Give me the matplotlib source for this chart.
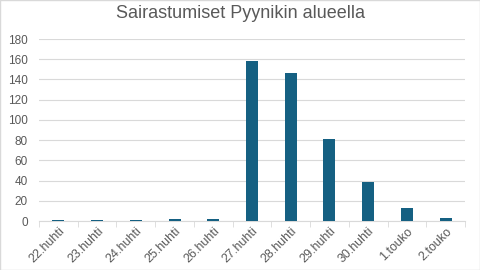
import matplotlib.pyplot as plt
import numpy as np

# Data
paivat = ['22.huhti', '23.huhti', '24.huhti', '25.huhti', '26.huhti', '27.huhti',
          '28.huhti', '29.huhti', '30.huhti', '1.touko', '2.touko']
sairastumiset = [1, 1, 1, 2, 2, 158, 146, 81, 39, 13, 3]
y_ticks = [0, 20, 40, 60, 80, 100, 120, 140, 160, 180]

plt.rcParams['font.family'] = ['Liberation Sans', 'DejaVu Sans']

fig = plt.figure(figsize=(4.8, 2.7), dpi=100)
ax = fig.add_axes([39/480, 1 - 221/270, 426/480, 182/270])

x = np.arange(len(paivat))
ax.bar(x, sairastumiset, width=0.31, color='#156082', zorder=3)

ax.set_xlim(-0.5, len(paivat) - 0.5)
ax.set_ylim(0, 180)
ax.set_yticks(y_ticks)
ax.set_xticks(x)
ax.set_xticklabels(paivat, rotation=45, ha='right', rotation_mode='anchor')

ax.grid(axis='y', color='#d9d9d9', lw=0.8, zorder=0)
for s in ['top', 'right', 'left']:
    ax.spines[s].set_visible(False)
ax.spines['bottom'].set_color('#d9d9d9')
ax.tick_params(axis='y', length=0, labelsize=8.5, labelcolor='#595959', pad=8)
ax.tick_params(axis='x', length=0, labelsize=9, labelcolor='#595959', pad=3)

# small category separators on the axis like Excel
sep = np.arange(len(paivat) + 1) - 0.5
ax.set_xticks(sep, minor=True)
ax.tick_params(axis='x', which='minor', length=4, color='#d9d9d9')

fig.text(0.5, 1 - 14/270, 'Sairastumiset Pyynikin alueella', ha='center', va='center',
         fontsize=13, color='#595959')

# chart border
fig.patches.append(plt.Rectangle((0, 0), 1, 1, transform=fig.transFigure,
                                 fill=False, edgecolor='#d9d9d9', lw=1))

fig.savefig('out.png', dpi=100)
